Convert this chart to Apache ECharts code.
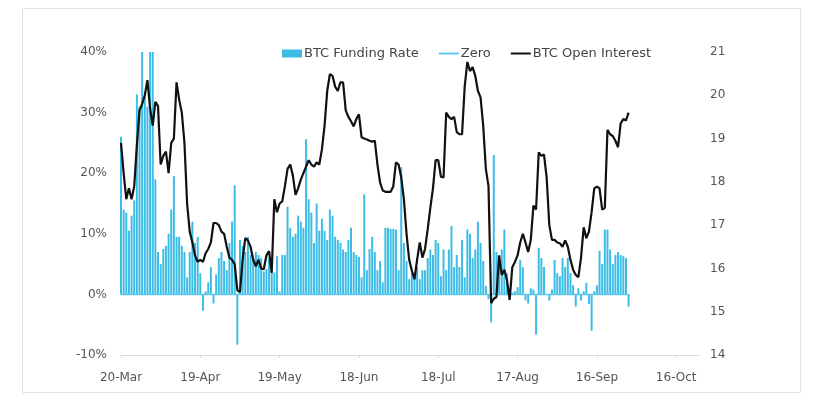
<!DOCTYPE html>
<html>
<head>
<meta charset="utf-8">
<script src="https://cdn.jsdelivr.net/npm/echarts@6/dist/echarts.min.js"></script>
<style>
html,body{margin:0;padding:0;background:#fff;}
#c{width:815px;height:406px;}
</style>
</head>
<body>
<div id="c"></div>
<script>
// Day index 0 = 20-Mar
const xTickLabels = ['20-Mar','19-Apr','19-May','18-Jun','18-Jul','17-Aug','16-Sep','16-Oct'];
const leftTicks = [-10, 0, 10, 20, 30, 40];
const rightTicks = [14, 15, 16, 17, 18, 19, 20, 21];

// BTC Funding Rate (%), one per day from 20-Mar
const fundingRate = [
26,14,13.5,10.5,13,15.5,33,31,40,33,
31,40,40,19,7,5,7.5,8,10,14,
19.5,9.5,9.5,8,7,2.8,7,12,8.5,9.5,
3.5,-2.7,0.5,2,4.5,-1.5,3.3,6,7,5.5,
4,8.5,12,18,-8.3,9,8,7,9.5,6.5,
6,7,6.5,6,3.8,4.2,6,4,3.6,6.3,
0.5,6.5,6.5,14.5,11,9.5,10,13,12,11,
25.6,15.7,13.5,8.5,15,10.5,12.5,10.5,9,14,
13,9.5,9,8.5,7.4,7,9,11,7,6.5,
6.2,2.8,16.5,4,7.5,9.5,7,4,5.5,2,
11,11,10.8,10.8,10.7,4,21,8.5,5.5,2.5,
3.5,3.5,4.5,2.5,4,4,6,7.4,6.5,9,
8.5,3,7.4,4,7.4,11.3,4.5,6.5,4.5,9,
2.8,10.7,10,6,7.4,12,8.5,5.5,1.4,-0.8,
-4.6,23,7,6,7.4,10.7,3.5,1,0.3,0.5,
1.2,5.7,4.5,-1,-1.5,1,0.8,-6.6,7.7,6,
4.5,0,-1,0.8,5.7,3.5,3,6,4.5,6,
3.5,1.5,-2,1,-1,0.5,1.9,-1.6,-6,0.5,
1.5,7.2,5,10.7,10.7,7.4,5,6.5,7,6.5,
6.3,6,-2
];

// BTC Open Interest, one per day from 20-Mar
const openInterest = [
18.9,18.2,17.6,17.85,17.6,17.9,18.85,19.65,19.8,20.0,
20.35,19.7,19.3,19.85,19.75,18.4,18.6,18.7,18.2,18.9,
19.0,20.3,19.9,19.6,18.9,17.5,16.85,16.6,16.3,16.15,
16.2,16.15,16.35,16.45,16.6,17.05,17.05,17.0,16.85,16.8,
16.5,16.25,16.2,16.1,15.5,15.45,16.2,16.7,16.65,16.5,
16.2,16.05,16.2,16.0,15.98,16.3,16.4,15.9,17.6,17.3,
17.5,17.55,17.9,18.3,18.4,18.15,17.7,17.85,18.05,18.2,
18.35,18.5,18.4,18.35,18.45,18.4,18.75,19.3,20.1,20.49,
20.45,20.2,20.1,20.3,20.3,19.65,19.5,19.4,19.28,19.45,
19.56,19.03,19.0,18.98,18.95,18.93,18.95,18.4,17.98,17.8,
17.77,17.77,17.77,17.9,18.45,18.4,18.1,17.6,16.8,16.2,
15.95,15.75,16.2,16.6,16.25,16.45,16.9,17.4,17.85,18.5,
18.5,18.12,18.1,19.6,19.5,19.45,19.5,19.15,19.1,19.1,
20.2,20.77,20.56,20.65,20.45,20.1,19.95,19.3,18.3,17.9,
15.2,15.3,15.34,16.3,15.85,15.97,15.73,15.27,16.03,16.15,
16.3,16.6,16.8,16.6,16.38,16.66,17.45,17.36,18.68,18.6,
18.63,18.1,17.0,16.66,16.66,16.6,16.58,16.5,16.65,16.5,
16.2,15.97,15.85,15.8,16.25,16.95,16.7,16.85,17.3,17.85,
17.89,17.85,17.36,17.4,19.2,19.1,19.06,18.95,18.8,19.35,
19.45,19.42,19.6
];

const zeroLine = fundingRate.map(() => 0);

const barColor = '#3DBDE5';
const zeroColor = '#5FC8EA';
const textColor = '#555';
const fontFamily = '"DejaVu Sans", sans-serif';
const lineIcon = 'path://M0,0 L20,0 L20,2 L0,2 Z';

const chart = echarts.init(document.getElementById('c'), null, { renderer: 'canvas' });
chart.setOption({
  backgroundColor: '#fff',
  animation: false,
  textStyle: { fontFamily: fontFamily },
  graphic: [{
    type: 'rect',
    shape: { x: 22.5, y: 8.5, width: 778, height: 384 },
    style: { fill: 'none', stroke: '#e2e2e2', lineWidth: 1 },
    silent: true
  }],
  legend: {
    left: 277,
    top: 42,
    itemWidth: 20,
    itemHeight: 8,
    itemGap: 20,
    textStyle: { color: '#444', fontSize: 13, fontFamily: fontFamily, padding: [0, 0, 0, -3] },
    data: [
      { name: 'BTC Funding Rate', icon: 'rect' },
      { name: 'Zero', icon: lineIcon },
      { name: 'BTC Open Interest', icon: lineIcon }
    ]
  },
  grid: { left: 121, right: 115, top: 52, bottom: 51, containLabel: false },
  xAxis: {
    type: 'value',
    min: 0,
    max: 219,
    interval: 30,
    axisLine: { show: true, onZero: false, lineStyle: { color: '#dcdcdc', width: 1 } },
    axisTick: { show: true, length: 3, lineStyle: { color: '#dcdcdc' } },
    splitLine: { show: false },
    axisLabel: {
      color: textColor, fontSize: 12, margin: 17,
      formatter: v => xTickLabels[Math.round(v / 30)] || ''
    }
  },
  yAxis: [
    {
      type: 'value',
      min: leftTicks[0],
      max: leftTicks[leftTicks.length - 1],
      interval: 10,
      axisLine: { show: false },
      axisTick: { show: false },
      splitLine: { show: false },
      axisLabel: { color: textColor, fontSize: 12, margin: 14, formatter: '{value}%' }
    },
    {
      type: 'value',
      min: rightTicks[0],
      max: rightTicks[rightTicks.length - 1],
      interval: 1,
      position: 'right',
      axisLine: { show: false },
      axisTick: { show: false },
      splitLine: { show: false },
      axisLabel: { color: textColor, fontSize: 12, margin: 10 }
    }
  ],
  series: [
    {
      name: 'BTC Funding Rate',
      type: 'bar',
      yAxisIndex: 0,
      barWidth: 2,
      itemStyle: { color: barColor },
      data: fundingRate.map((v, i) => [i, v])
    },
    {
      name: 'Zero',
      type: 'line',
      yAxisIndex: 0,
      symbol: 'none',
      lineStyle: { color: zeroColor, width: 1.5 },
      itemStyle: { color: zeroColor },
      data: zeroLine.map((v, i) => [i, v])
    },
    {
      name: 'BTC Open Interest',
      type: 'line',
      yAxisIndex: 1,
      symbol: 'none',
      lineStyle: { color: '#111', width: 2.2 },
      itemStyle: { color: '#111' },
      data: openInterest.map((v, i) => [i, v])
    }
  ]
});
</script>
</body>
</html>
